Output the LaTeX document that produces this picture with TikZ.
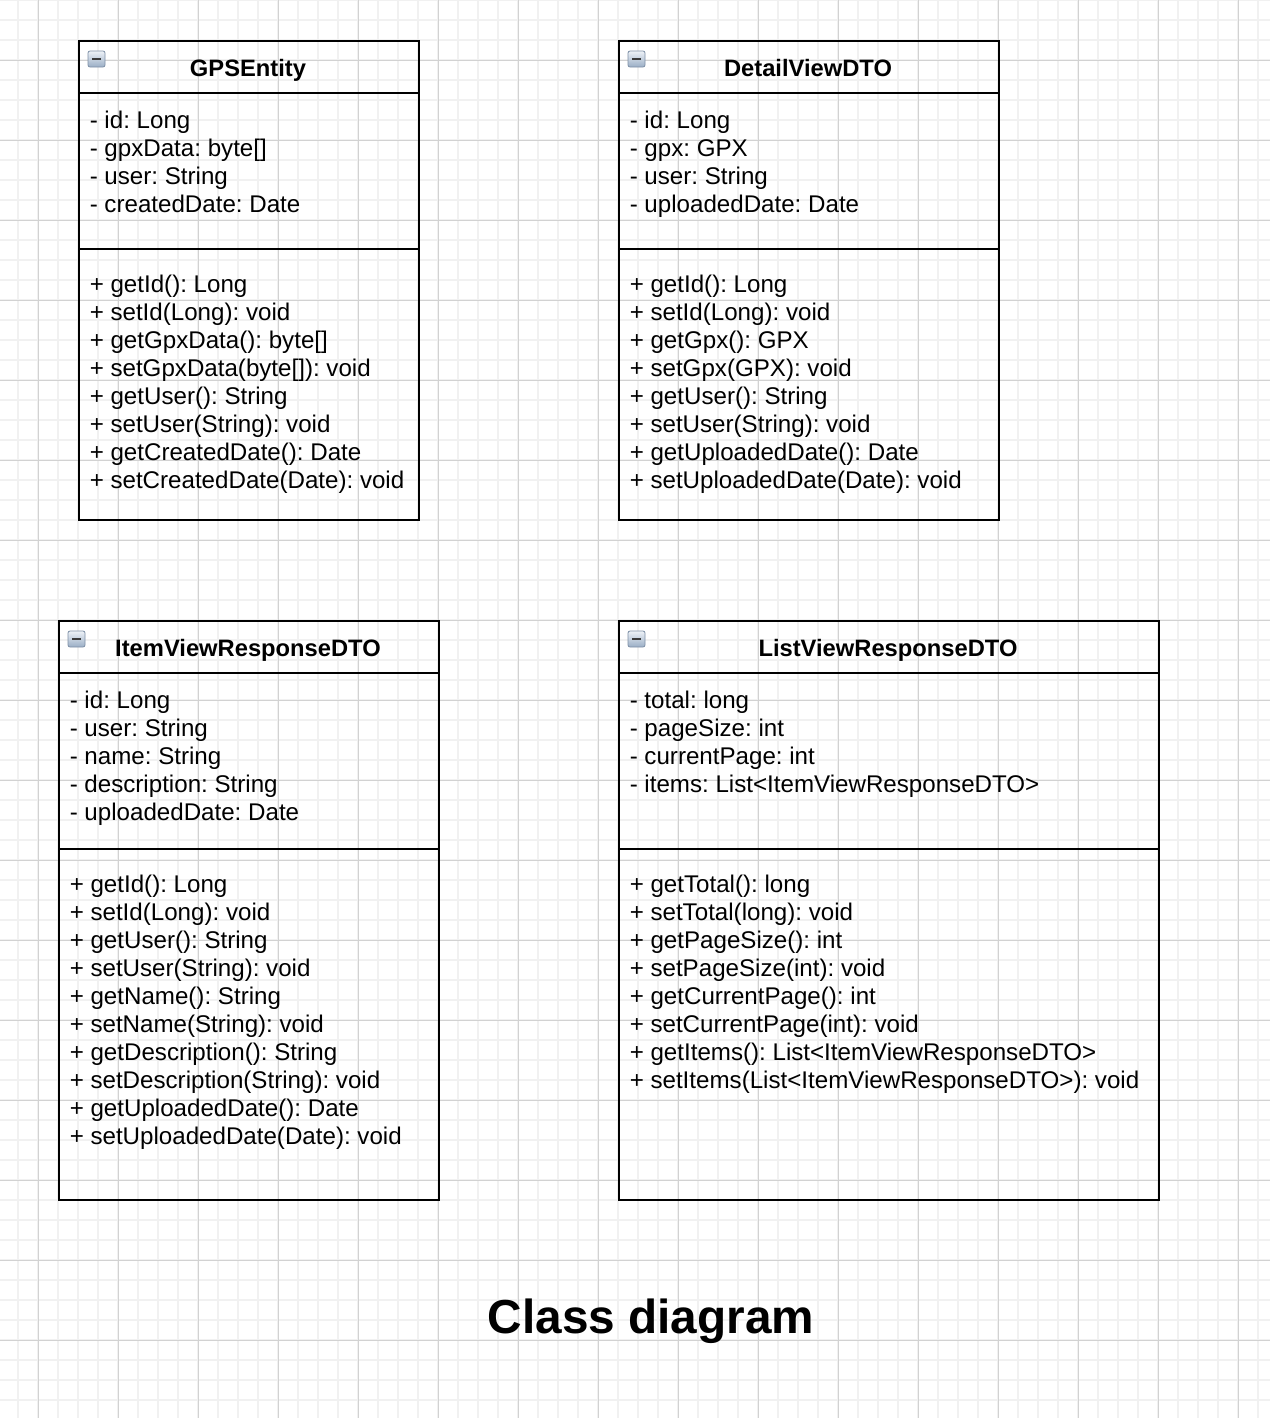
\documentclass[tikz,border=0pt]{standalone}
\usepackage{fontspec}
\setmainfont{Liberation Sans}
\frenchspacing
\definecolor{gridminor}{HTML}{F1F1F1}
\definecolor{gridmajor}{HTML}{D2D2D2}
\definecolor{icontop}{HTML}{EEF2F7}
\definecolor{iconbot}{HTML}{9AAEC6}
\definecolor{iconedge}{HTML}{7D8FA6}
\definecolor{icondash}{HTML}{3A3A3A}
\begin{document}
\begin{tikzpicture}[x=0.75pt,y=-0.75pt,
  boxline/.style={draw=black,line width=1.5pt},
  txt/.style={anchor=base west,inner sep=0pt,font=\fontsize{18.1}{21}\selectfont},
  ttl/.style={anchor=base,inner sep=0pt,font=\fontsize{17.8}{21}\selectfont\bfseries},
  iconbox/.style={top color=icontop,bottom color=iconbot,draw=iconedge,line width=0.6pt,rounded corners=1.5pt},
  icondashline/.style={draw=icondash,line width=1.7pt}]
\useasboundingbox (0,0) rectangle (1270,1418);
\fill[white] (0,0) rectangle (1270,1418);
% grid
\foreach \gx in {18,38,...,1270} \draw[gridminor,line width=1.1pt] (\gx,0) -- (\gx,1418);
\foreach \gy in {0,20,...,1418} \draw[gridminor,line width=1.1pt] (0,\gy) -- (1270,\gy);
\foreach \gx in {38,118,...,1270} \draw[gridmajor,line width=0.75pt] (\gx,0) -- (\gx,1418);
\foreach \gy in {60,140,...,1418} \draw[gridmajor,line width=0.75pt] (0,\gy) -- (1270,\gy);

% ---------- GPSEntity ----------
\path[boxline] (79,41) rectangle (419,520);
\draw[boxline] (79,93) -- (419,93);
\draw[boxline] (79,249) -- (419,249);
\path[iconbox] (88,51) rectangle (105,67);
\draw[icondashline] (92,59) -- (101,59);
\node[ttl] (gpsT) at (248,76) {GPSEntity};
\foreach \t [count=\i] in {{- id: Long},{- gpxData: byte[]},{- user: String},{- createdDate: Date}}
  \node[txt] (gpsA\i) at (89.5,{100+28*\i}) {\t};
\foreach \t [count=\i] in {{+ getId(): Long},{+ setId(Long): void},{+ getGpxData(): byte[]},{+ setGpxData(byte[]): void},{+ getUser(): String},{+ setUser(String): void},{+ getCreatedDate(): Date},{+ setCreatedDate(Date): void}}
  \node[txt] (gpsM\i) at (89.5,{264+28*\i}) {\t};

% ---------- DetailViewDTO ----------
\path[boxline] (619,41) rectangle (999,520);
\draw[boxline] (619,93) -- (999,93);
\draw[boxline] (619,249) -- (999,249);
\path[iconbox] (628,51) rectangle (645,67);
\draw[icondashline] (632,59) -- (641,59);
\node[ttl] (detT) at (808,76) {DetailViewDTO};
\foreach \t [count=\i] in {{- id: Long},{- gpx: GPX},{- user: String},{- uploadedDate: Date}}
  \node[txt] (detA\i) at (629.5,{100+28*\i}) {\t};
\foreach \t [count=\i] in {{+ getId(): Long},{+ setId(Long): void},{+ getGpx(): GPX},{+ setGpx(GPX): void},{+ getUser(): String},{+ setUser(String): void},{+ getUploadedDate(): Date},{+ setUploadedDate(Date): void}}
  \node[txt] (detM\i) at (629.5,{264+28*\i}) {\t};

% ---------- ItemViewResponseDTO ----------
\path[boxline] (59,621) rectangle (439,1200);
\draw[boxline] (59,673) -- (439,673);
\draw[boxline] (59,849) -- (439,849);
\path[iconbox] (68,631) rectangle (85,647);
\draw[icondashline] (72,639) -- (81,639);
\node[ttl] (itmT) at (248,656) {ItemViewResponseDTO};
\foreach \t [count=\i] in {{- id: Long},{- user: String},{- name: String},{- description: String},{- uploadedDate: Date}}
  \node[txt] (itmA\i) at (69.5,{680+28*\i}) {\t};
\foreach \t [count=\i] in {{+ getId(): Long},{+ setId(Long): void},{+ getUser(): String},{+ setUser(String): void},{+ getName(): String},{+ setName(String): void},{+ getDescription(): String},{+ setDescription(String): void},{+ getUploadedDate(): Date},{+ setUploadedDate(Date): void}}
  \node[txt] (itmM\i) at (69.5,{864+28*\i}) {\t};

% ---------- ListViewResponseDTO ----------
\path[boxline] (619,621) rectangle (1159,1200);
\draw[boxline] (619,673) -- (1159,673);
\draw[boxline] (619,849) -- (1159,849);
\path[iconbox] (628,631) rectangle (645,647);
\draw[icondashline] (632,639) -- (641,639);
\node[ttl] (lstT) at (888,656) {ListViewResponseDTO};
\foreach \t [count=\i] in {{- total: long},{- pageSize: int},{- currentPage: int},{- items: List<ItemViewResponseDTO>}}
  \node[txt] (lstA\i) at (629.5,{680+28*\i}) {\t};
\foreach \t [count=\i] in {{+ getTotal(): long},{+ setTotal(long): void},{+ getPageSize(): int},{+ setPageSize(int): void},{+ getCurrentPage(): int},{+ setCurrentPage(int): void},{+ getItems(): List<ItemViewResponseDTO>},{+ setItems(List<ItemViewResponseDTO>): void}}
  \node[txt] (lstM\i) at (629.5,{864+28*\i}) {\t};

% ---------- caption ----------
\node[anchor=base,inner sep=0pt,font=\fontsize{35.8}{40}\selectfont\bfseries] (caption) at (651,1333) {Class diagram};
\end{tikzpicture}
\end{document}
